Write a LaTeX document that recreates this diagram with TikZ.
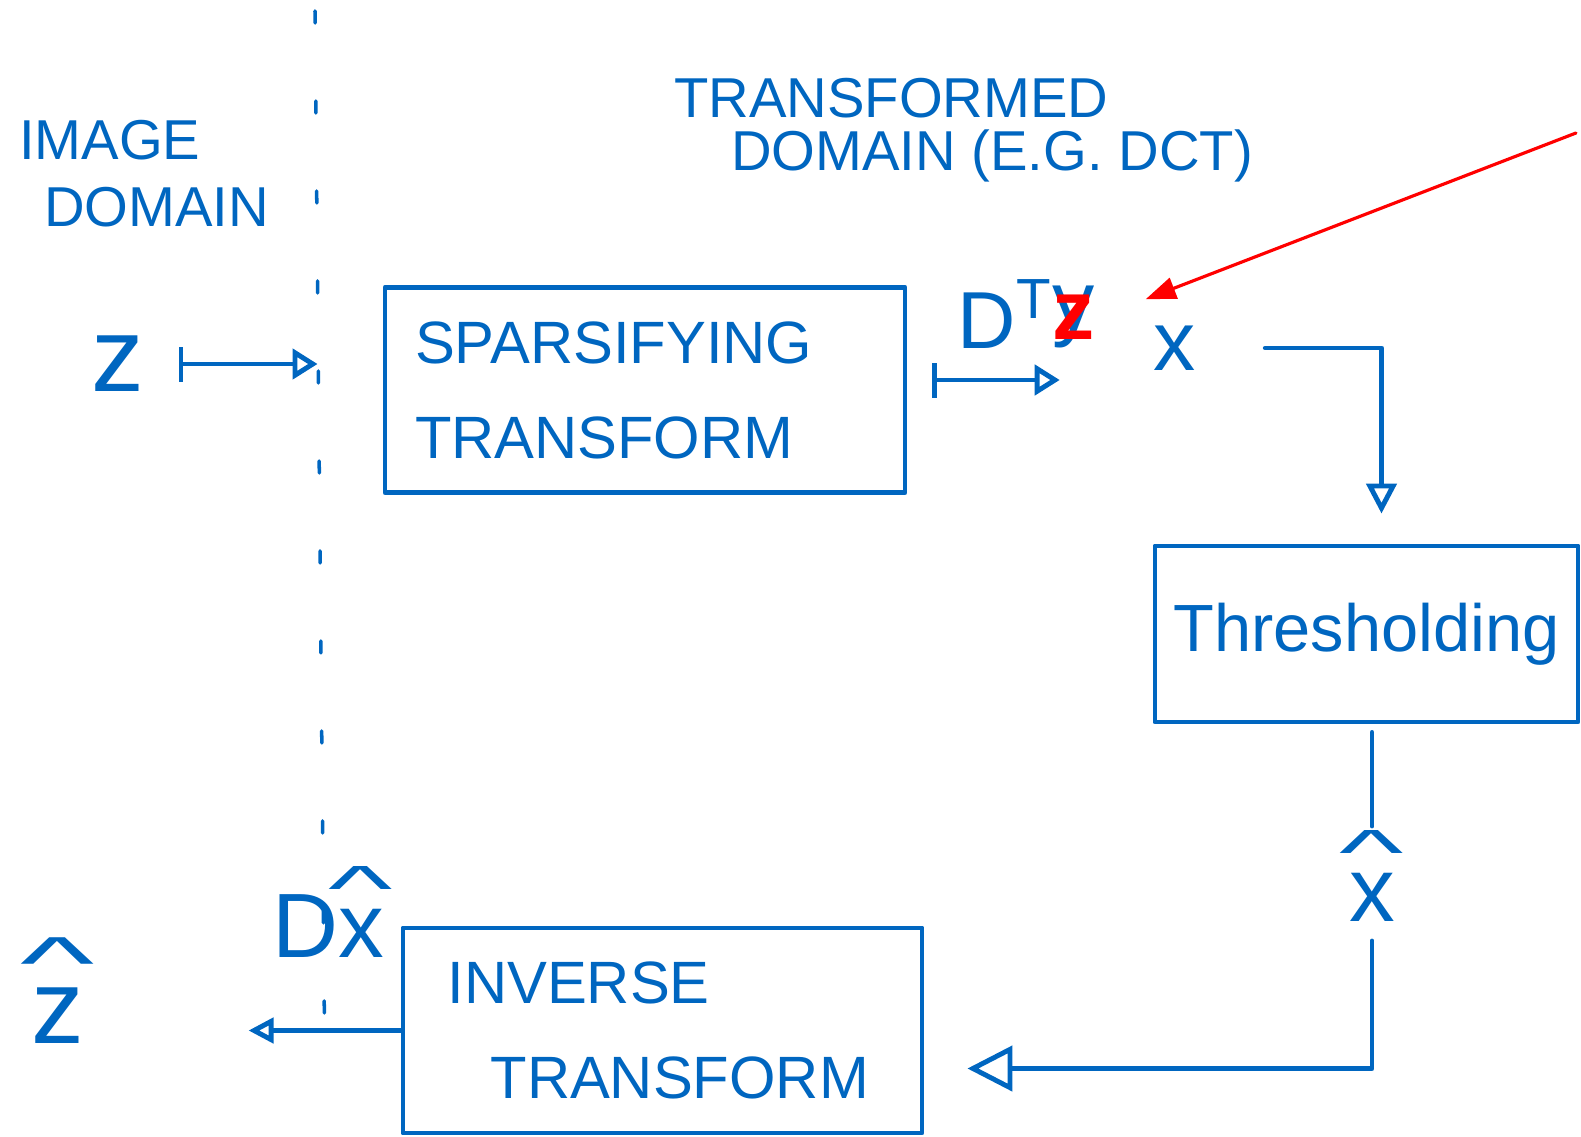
\RequirePackage{fix-cm}
\documentclass[tikz,border=0pt]{standalone}
\usepackage{amsmath}
\usepackage{fontspec}
\setmainfont{Liberation Sans}
\usepackage{tikz}
\usetikzlibrary{arrows.meta,positioning}
\usepackage{xcolor}
\definecolor{inkblue}{RGB}{0,102,192}
\definecolor{inkred}{RGB}{255,0,0}
\newcommand{\fsz}[1]{\fontsize{#1}{1.15\dimexpr #1pt\relax}\selectfont}
\newcommand{\hatted}[1]{\setbox0\hbox{#1}\rlap{\hbox to\wd0{\hss\raisebox{0.52em}{\scalebox{1.5}[0.7]{\textasciicircum}}\hss}}\box0}

\begin{document}
\begin{tikzpicture}[line cap=round,line join=round,
  ink/.style={inkblue,line width=1.4pt},
  blk/.style={ink,draw,inner sep=0pt,font=\fontsize{17}{27}\selectfont},
  lbl/.style={inkblue,inner sep=1pt},
  flow/.style={ink,{Bar[width=3.5mm]}-{Triangle[open,length=2.5mm,width=3mm]}},
  tip/.style={ink,-{Triangle[open,length=#1,width=#1]}},
  note/.style={inkred,line width=0.9pt,-{Triangle[length=3mm,width=2.2mm]}}]
\useasboundingbox (0,0) rectangle (15.81,11.36);
\draw[ink,line width=1pt,dash pattern=on 0.12cm off 0.78cm] (3.15,11.25) -- (3.25,0.5);
\node[lbl,anchor=north west,align=left,font=\fontsize{16}{19}\selectfont] (imgdom) at (0.15,10.2)
  {IMAGE\\\hspace*{0.25cm}DOMAIN};
\node[lbl,anchor=north west,align=left,font=\fontsize{16}{15}\selectfont] (trdom) at (6.7,10.62)
  {TRANSFORMED\\\hspace*{0.57cm}DOMAIN (E.G. DCT)};
\node[blk,minimum width=5.2cm,minimum height=2.05cm,text width=4.6cm,align=left] (spars) at (6.45,7.46)
  {SPARSIFYING\\TRANSFORM};
\node[blk,minimum width=4.23cm,minimum height=1.76cm,font=\fontsize{19}{22}\selectfont] (thr) at (13.665,5.02)
  {Thresholding};
\node[blk,minimum width=5.19cm,minimum height=2.05cm,text width=4.3cm,align=left] (inv) at (6.625,1.055)
  {INVERSE\\\hspace*{0.43cm}TRANSFORM};
\node[lbl,font=\fsz{30}] (z) at (1.18,7.72) {z};
\node[lbl,font=\fsz{23}] (dt) at (10.05,8.22) {D\textsuperscript{T}};
\node[lbl,font=\fsz{24},anchor=south west] (yold) at ([xshift=-0.08cm]dt.south east) {y};
\node[lbl,font=\fsz{24}\bfseries,text=inkred] (zred) at (yold) {z};
\node[lbl,font=\fsz{24}] (xt) at (11.75,7.88) {x};
\node[lbl,font=\fsz{26}] (xhat) at (13.72,2.6) {\hatted{x}};
\node[lbl,font=\fsz{26}] (dxhat) at (3.28,2.24) {D\hatted{x}};
\node[lbl,font=\fsz{30}] (zhat) at (0.58,1.45) {\hatted{z}};
\coordinate (remark) at (15.76,10.03);
\draw[flow,shorten <=0.3cm,shorten >=0.65cm] (z) -- (z -| spars.west);
\draw[flow,shorten <=0.25cm,shorten >=0.9cm] ([yshift=1mm]spars.east) -- ([yshift=1mm]spars.east -| xt.west);
\draw[tip=3mm,shorten <=0.65cm,shorten >=0.3cm] (xt.east) -| ([xshift=1.5mm]thr.north);
\draw[ink,shorten <=0.08cm] (thr.south -| xhat.north) -- (xhat.north);
\draw[tip=4.5mm,shorten <=0.15cm,shorten >=0.43cm] (xhat.south) |- ([yshift=-0.38cm]inv.east);
\draw[tip=2.5mm,shorten >=1.6cm] (inv.west) -- (inv.west -| zhat.east);
\draw[note,shorten >=0.5cm] (remark) -- (zred.east);
\end{tikzpicture}
\end{document}
